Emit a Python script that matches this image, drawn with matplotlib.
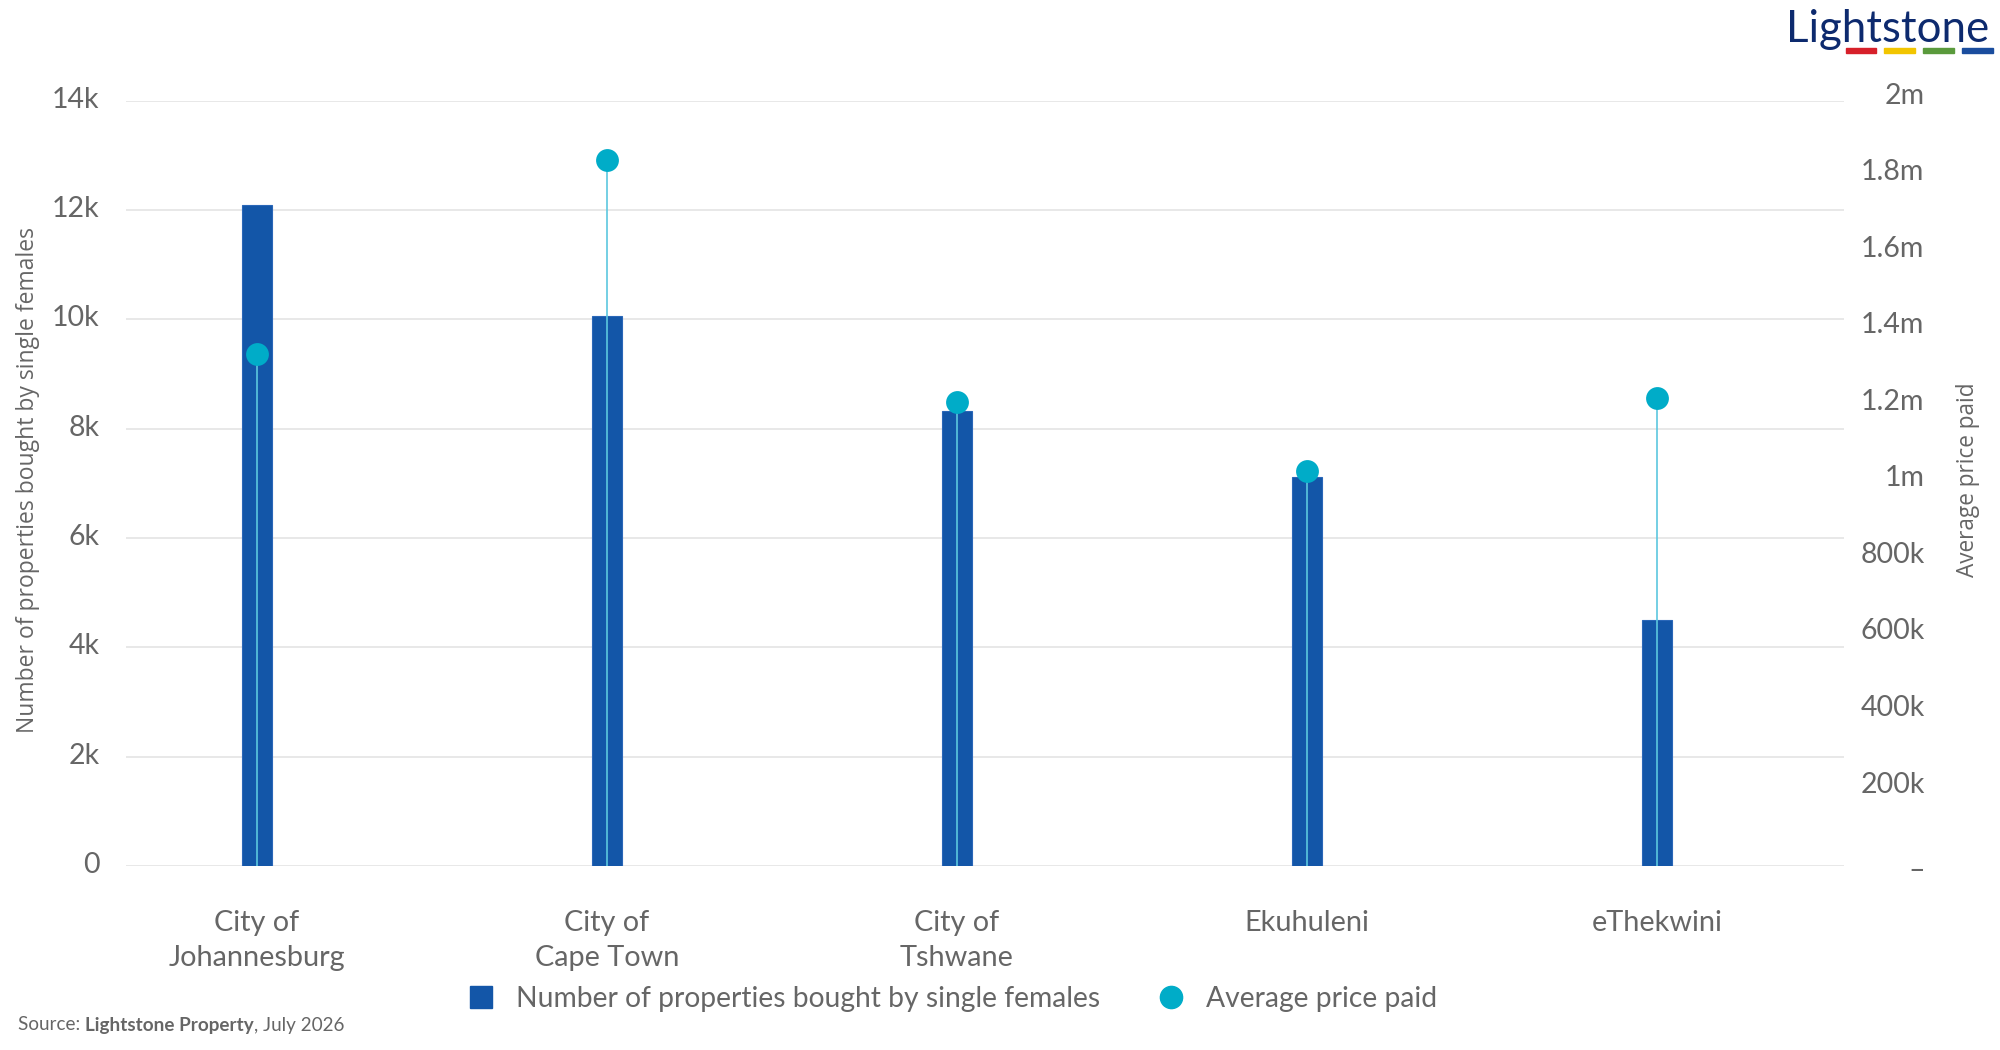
import matplotlib
matplotlib.use("Agg")
import matplotlib.pyplot as plt
from matplotlib.lines import Line2D
from matplotlib.patches import Rectangle
from matplotlib.ticker import FixedLocator, FuncFormatter
from matplotlib.transforms import ScaledTranslation

# ---- data ----
categories = ["City of\nJohannesburg", "City of\nCape Town", "City of\nTshwane", "Ekuhuleni", "eThekwini"]
properties = [12100, 10070, 8330, 7110, 4500]
avg_price = [1337000, 1845000, 1212000, 1032000, 1222000]
left_ticks = [0, 2000, 4000, 6000, 8000, 10000, 12000, 14000]
right_ticks = [0, 200000, 400000, 600000, 800000, 1000000, 1200000, 1400000, 1600000, 1800000, 2000000]

BAR = "#1356a8"
DOT = "#00acc8"
STEM = "#5cc7df"
GREY = "#666666"
GRID = "#e1e1e1"
FONT = "Lato"

plt.rcParams['font.family'] = [FONT, 'DejaVu Sans']

fig = plt.figure(figsize=(20, 10.5), dpi=100)
ax = fig.add_axes([0.063, 0.1752, 0.859, 0.7289])
ax2 = ax.twinx()

x = list(range(len(categories)))
ax.bar(x, properties, width=0.0857, color=BAR, edgecolor="#2a67b8", linewidth=0.8, zorder=3)
ax.set_ylim(0, 14000)
ax.set_xlim(-0.374, 4.534)
ax.yaxis.set_major_locator(FixedLocator(left_ticks))
ax.yaxis.set_major_formatter(FuncFormatter(lambda v, p: "0" if v == 0 else f"{int(v/1000)}k"))
ax.grid(axis="y", color=GRID, linewidth=1.1, zorder=0)
ax.set_axisbelow(True)
ax.set_xticks(x)
ax.set_xticklabels(categories, fontsize=20.8, color=GREY, linespacing=1.4)
ax.tick_params(axis="x", length=0, pad=32)
ax.tick_params(axis="y", length=0, pad=19, labelsize=20.5, labelcolor=GREY)
for s in ax.spines.values():
    s.set_visible(False)

ax2.vlines(x, 0, avg_price, color=STEM, linewidth=1.2, zorder=4)
ax2.scatter(x, avg_price, s=270, color=DOT, zorder=5, linewidths=0)
ax2.set_ylim(0, 2000000)
ax2.yaxis.set_major_locator(FixedLocator(right_ticks))

def rfmt(v, p):
    if v == 0:
        return "\u2013"
    if v >= 1000000:
        m = v / 1000000
        return (f"{m:.0f}m" if abs(m - round(m)) < 1e-9 else f"{m:.1f}m")
    return f"{int(v/1000)}k"

ax2.yaxis.set_major_formatter(FuncFormatter(rfmt))
ax2.tick_params(axis="y", length=0, pad=58, labelsize=20.5, labelcolor=GREY)
for s in ax2.spines.values():
    s.set_visible(False)

fig.canvas.draw()
# small vertical offsets of tick labels as in the reference
up_left = ScaledTranslation(0, 3.5 / 100, fig.dpi_scale_trans)
for t in ax.yaxis.get_major_ticks():
    t.label1.set_transform(t.label1.get_transform() + up_left)
for i, t in enumerate(ax2.yaxis.get_major_ticks()):
    t.label2.set_horizontalalignment("right")
    dy = -2 if i == 0 else 7.5
    t.label2.set_transform(t.label2.get_transform() + ScaledTranslation(0, dy / 100, fig.dpi_scale_trans))

# axis titles
fig.text(0.014, 1 - 480/1050, "Number of properties bought by single females", rotation=90,
         ha="center", va="center", fontsize=16.5, color=GREY, family=["Open Sans", "DejaVu Sans"])
fig.text(0.984, 1 - 480/1050, "Average price paid", rotation=90,
         ha="center", va="center", fontsize=16.3, color=GREY, family=["Open Sans", "DejaVu Sans"])

# legend
handles = [
    Line2D([], [], marker="s", linestyle="none", markersize=16, markerfacecolor=BAR, markeredgecolor=BAR),
    Line2D([], [], marker="o", linestyle="none", markersize=16, markerfacecolor=DOT, markeredgecolor=DOT),
]
fig.legend(handles, ["Number of properties bought by single females", "Average price paid"],
           loc="center", bbox_to_anchor=(0.476, 1 - 999/1050), ncol=2, frameon=False,
           fontsize=20.3, labelcolor=GREY, handletextpad=0.75, columnspacing=2.0, handlelength=1.0)

# source
r = fig.canvas.get_renderer()
ys = 1 - 1025/1050
t1 = fig.text(0.009, ys, "Source: ", fontsize=13.6, color=GREY, va="center")
bb = t1.get_window_extent(r)
t2 = fig.text(bb.x1 / fig.bbox.width, ys, "Lightstone Property", fontsize=13.6, color=GREY,
              va="center", fontweight="bold")
bb2 = t2.get_window_extent(r)
fig.text(bb2.x1 / fig.bbox.width, ys, ", July 2026", fontsize=13.6, color=GREY, va="center")

# logo
fig.text(0.9945, 1 - 42/1050, "Lightstone", fontsize=31.5, color="#0d2a6e", ha="right",
         va="baseline")
for x0, x1, c in [(1846, 1876, "#d7202a"), (1884, 1915, "#f2c500"),
                  (1923, 1954, "#5a9a3c"), (1962, 1993, "#1a4d9e")]:
    fig.patches.append(Rectangle((x0/2000, 1 - 53/1050), (x1 - x0)/2000, 5/1050,
                                 transform=fig.transFigure, color=c, figure=fig))

fig.savefig("out.png", dpi=100)
